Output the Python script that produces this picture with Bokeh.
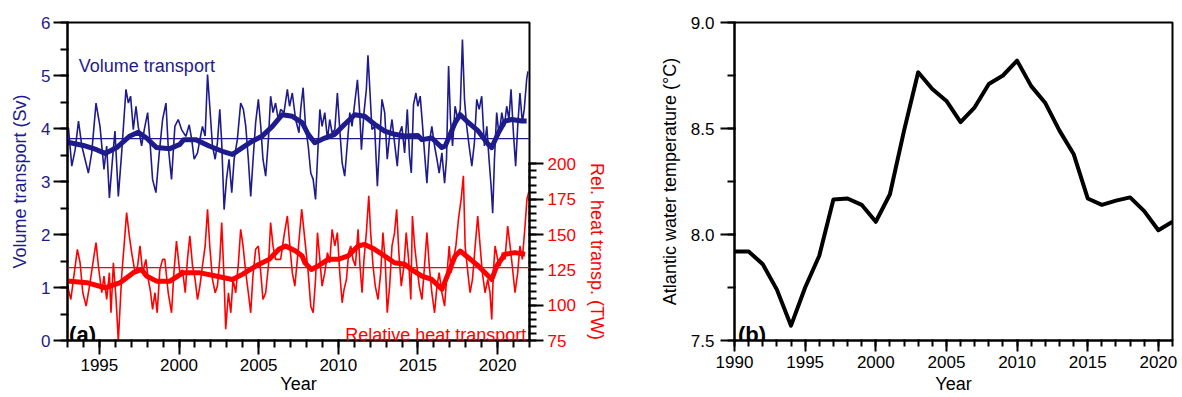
import math
from bokeh.plotting import figure
from bokeh.layouts import row
from bokeh.models import (Range1d, LinearAxis, SingleIntervalTicker, Span, Label,
                          NumeralTickFormatter)
from bokeh.embed import file_html
from bokeh.resources import INLINE

FONT = "Liberation Sans"
BLUE = "#1e1b8c"
RED = "#ff0000"

# ---------------- Panel (a) data ----------------
vol_year = [1993.00, 1993.06, 1993.27, 1993.48, 1993.69, 1993.90, 1994.10, 1994.31, 1994.52, 1994.79,
            1995.04, 1995.29, 1995.46, 1995.63, 1995.84, 1995.98, 1996.19, 1996.40, 1996.67, 1996.82,
            1996.96, 1997.13, 1997.30, 1997.44, 1997.65, 1997.82, 1998.03, 1998.17, 1998.34, 1998.55,
            1998.76, 1998.97, 1999.18, 1999.32, 1999.53, 1999.74, 1999.95, 2000.16, 2000.43, 2000.64,
            2000.80, 2000.95, 2001.16, 2001.31, 2001.47, 2001.64, 2001.79, 2001.93, 2002.10, 2002.27,
            2002.41, 2002.56, 2002.68, 2002.83, 2002.98, 2003.14, 2003.31, 2003.46, 2003.66, 2003.87,
            2004.04, 2004.19, 2004.35, 2004.50, 2004.65, 2004.81, 2004.98, 2005.13, 2005.27, 2005.44,
            2005.61, 2005.75, 2005.90, 2006.06, 2006.23, 2006.38, 2006.59, 2006.80, 2006.94, 2007.11,
            2007.32, 2007.53, 2007.65, 2007.79, 2007.94, 2008.11, 2008.27, 2008.42, 2008.57, 2008.69,
            2008.84, 2008.98, 2009.15, 2009.32, 2009.46, 2009.61, 2009.78, 2009.94, 2010.09, 2010.24,
            2010.40, 2010.57, 2010.72, 2010.86, 2011.03, 2011.20, 2011.34, 2011.45, 2011.61, 2011.76,
            2011.86, 2011.99, 2012.11, 2012.28, 2012.45, 2012.59, 2012.74, 2012.91, 2013.07, 2013.22,
            2013.37, 2013.53, 2013.70, 2013.85, 2013.99, 2014.16, 2014.33, 2014.47, 2014.58, 2014.72,
            2014.87, 2014.99, 2015.14, 2015.29, 2015.41, 2015.56, 2015.71, 2015.87, 2016.04, 2016.19,
            2016.33, 2016.50, 2016.67, 2016.79, 2016.92, 2017.04, 2017.17, 2017.33, 2017.50, 2017.65,
            2017.79, 2017.92, 2018.06, 2018.21, 2018.38, 2018.54, 2018.69, 2018.84, 2019.00, 2019.17,
            2019.32, 2019.46, 2019.59, 2019.69, 2019.80, 2019.94, 2020.09, 2020.26, 2020.42, 2020.57,
            2020.71, 2020.84, 2020.99, 2021.13, 2021.26, 2021.40, 2021.55, 2021.67, 2021.82, 2021.90]
vol_sv = [4.02, 4.01, 3.29, 3.60, 4.14, 3.67, 3.42, 3.16, 3.54, 4.48,
          4.04, 3.23, 3.67, 2.69, 3.48, 3.95, 2.72, 3.54, 4.74, 4.48,
          4.61, 3.98, 4.42, 4.04, 3.67, 3.98, 4.30, 3.79, 3.04, 2.79,
          3.54, 4.17, 4.48, 3.67, 3.04, 4.04, 4.17, 3.98, 3.85, 4.07,
          3.79, 3.42, 3.54, 3.79, 4.04, 3.86, 5.02, 4.42, 3.67, 3.42,
          3.73, 4.36, 3.73, 2.47, 3.04, 3.42, 2.79, 3.42, 3.79, 4.48,
          4.36, 4.04, 3.42, 2.72, 3.42, 4.11, 4.55, 4.04, 3.42, 3.10,
          3.79, 4.61, 4.30, 4.48, 4.17, 4.36, 4.30, 4.74, 4.42, 4.67,
          4.17, 3.92, 4.40, 4.77, 4.04, 3.67, 3.16, 3.04, 2.66, 3.42,
          4.36, 4.04, 4.30, 3.79, 4.17, 3.92, 3.98, 4.67, 3.98, 3.35,
          3.10, 3.73, 4.30, 4.04, 4.48, 4.92, 4.30, 3.60, 4.30, 4.74,
          5.38, 4.67, 3.98, 4.04, 2.91, 3.73, 4.55, 4.30, 3.42, 3.86,
          4.17, 3.73, 3.29, 3.92, 4.04, 3.54, 4.36, 3.48, 3.16, 4.45,
          4.67, 4.42, 4.61, 4.04, 3.54, 2.97, 3.73, 4.04, 3.67, 3.42,
          3.16, 3.54, 2.97, 3.42, 5.18, 4.17, 3.67, 4.42, 4.17, 4.36,
          5.68, 4.55, 4.04, 3.67, 3.29, 3.73, 4.55, 4.36, 4.61, 3.67,
          4.04, 3.42, 2.91, 2.40, 3.42, 4.30, 3.86, 4.30, 4.04, 4.42,
          4.17, 4.74, 3.92, 3.29, 4.04, 4.67, 4.11, 4.36, 4.92, 5.08]

vol_smooth_year = [1993.00, 1993.17, 1994.00, 1994.83, 1995.36, 1996.09, 1996.92, 1997.44, 1997.96, 1998.59,
                   1999.43, 2000.05, 2000.30, 2001.05, 2001.89, 2002.72, 2003.35, 2003.98, 2004.60, 2005.23,
                   2005.86, 2006.48, 2007.11, 2007.73, 2008.11, 2008.52, 2009.15, 2009.78, 2010.40, 2011.03,
                   2011.65, 2012.28, 2012.91, 2013.53, 2014.16, 2014.99, 2015.25, 2015.87, 2016.50, 2016.71,
                   2017.33, 2017.65, 2018.06, 2018.79, 2019.42, 2019.63, 2020.05, 2020.46, 2020.88, 2021.51,
                   2021.82]
vol_smooth = [3.73, 3.73, 3.68, 3.60, 3.53, 3.64, 3.86, 3.93, 3.82, 3.64,
              3.62, 3.70, 3.79, 3.79, 3.67, 3.57, 3.51, 3.64, 3.76, 3.86,
              4.04, 4.26, 4.23, 4.11, 3.89, 3.73, 3.82, 3.89, 4.08, 4.26,
              4.23, 4.08, 3.95, 3.89, 3.86, 3.87, 3.79, 3.82, 3.64, 3.67,
              4.11, 4.26, 4.14, 3.95, 3.70, 3.64, 3.92, 4.14, 4.17, 4.14,
              4.14]

heat_year = [1993.00, 1993.06, 1993.21, 1993.37, 1993.62, 1993.79, 1993.96, 1994.17, 1994.38, 1994.63,
             1994.79, 1994.94, 1995.15, 1995.29, 1995.46, 1995.63, 1995.73, 1995.88, 1996.05, 1996.19,
             1996.40, 1996.55, 1996.71, 1996.88, 1997.03, 1997.24, 1997.40, 1997.55, 1997.72, 1997.92,
             1998.07, 1998.22, 1998.34, 1998.49, 1998.63, 1998.80, 1998.97, 1999.11, 1999.32, 1999.53,
             1999.68, 1999.84, 2000.05, 2000.22, 2000.39, 2000.53, 2000.68, 2000.85, 2001.01, 2001.16,
             2001.31, 2001.47, 2001.64, 2001.79, 2001.93, 2002.10, 2002.27, 2002.41, 2002.56, 2002.68,
             2002.83, 2002.93, 2003.10, 2003.25, 2003.39, 2003.56, 2003.73, 2003.87, 2004.02, 2004.19,
             2004.35, 2004.50, 2004.64, 2004.81, 2004.98, 2005.13, 2005.27, 2005.44, 2005.61, 2005.75,
             2005.90, 2006.06, 2006.23, 2006.38, 2006.59, 2006.80, 2006.94, 2007.11, 2007.27, 2007.45,
             2007.70, 2007.94, 2008.11, 2008.27, 2008.42, 2008.57, 2008.69, 2008.84, 2008.98, 2009.15,
             2009.32, 2009.46, 2009.61, 2009.78, 2009.94, 2010.09, 2010.24, 2010.36, 2010.51, 2010.65,
             2010.78, 2010.92, 2011.07, 2011.24, 2011.36, 2011.49, 2011.61, 2011.76, 2011.91, 2012.03,
             2012.18, 2012.32, 2012.49, 2012.66, 2012.80, 2012.95, 2013.07, 2013.22, 2013.37, 2013.53,
             2013.66, 2013.80, 2013.95, 2014.12, 2014.26, 2014.41, 2014.55, 2014.65, 2014.79, 2014.93,
             2015.08, 2015.25, 2015.41, 2015.56, 2015.71, 2015.87, 2016.04, 2016.19, 2016.33, 2016.50,
             2016.67, 2016.81, 2016.96, 2017.08, 2017.23, 2017.38, 2017.54, 2017.71, 2017.85, 2017.96,
             2018.13, 2018.27, 2018.42, 2018.59, 2018.75, 2018.90, 2019.04, 2019.21, 2019.38, 2019.52,
             2019.63, 2019.73, 2019.84, 2020.00, 2020.15, 2020.30, 2020.46, 2020.63, 2020.78, 2020.92,
             2021.09, 2021.26, 2021.40, 2021.55, 2021.72, 2021.84, 2021.95]
heat_tw = [115.0, 111.0, 104.0, 118.0, 139.5, 130.0, 108.8, 99.3, 113.5, 132.4,
           144.2, 127.7, 108.8, 120.6, 104.0, 123.0, 94.6, 130.0, 104.0, 74.5,
           120.6, 141.9, 165.5, 149.0, 137.0, 123.0, 127.7, 141.9, 123.0, 132.4,
           118.2, 108.8, 97.0, 108.8, 94.6, 125.3, 132.4, 132.4, 108.8, 94.6,
           123.0, 145.4, 123.0, 125.0, 108.8, 132.4, 149.0, 127.7, 118.2, 104.0,
           113.5, 127.7, 141.9, 167.9, 141.9, 118.2, 108.8, 113.5, 132.4, 158.4,
           118.2, 83.0, 108.8, 94.6, 118.2, 108.8, 130.0, 153.7, 141.9, 123.0,
           108.8, 94.6, 120.6, 139.5, 141.9, 123.0, 104.0, 108.8, 127.7, 158.4,
           141.9, 132.4, 132.4, 132.4, 149.0, 163.1, 144.2, 123.0, 113.5, 135.0,
           167.9, 141.9, 123.0, 99.3, 94.6, 118.2, 151.3, 132.4, 113.5, 123.0,
           137.2, 130.0, 153.7, 141.9, 151.3, 123.0, 101.7, 111.2, 118.2, 137.2,
           141.9, 132.4, 127.7, 153.7, 127.7, 108.8, 132.4, 151.3, 177.3, 151.3,
           127.7, 113.5, 104.0, 123.0, 151.3, 130.0, 94.6, 113.5, 141.9, 151.3,
           167.9, 137.2, 113.5, 127.7, 151.3, 132.4, 104.0, 163.1, 141.9, 127.7,
           113.5, 104.0, 127.7, 151.3, 127.7, 108.8, 94.6, 113.5, 123.0, 108.8,
           99.3, 120.6, 141.9, 123.0, 132.4, 141.9, 160.8, 175.0, 191.5, 141.9,
           123.0, 108.8, 118.2, 141.9, 163.1, 141.9, 123.0, 108.8, 118.2, 108.8,
           89.9, 123.0, 141.9, 132.4, 127.7, 137.2, 132.4, 156.0, 141.9, 127.7,
           108.8, 123.0, 141.9, 132.4, 156.0, 175.0, 180.0]

heat_smooth_year = [1993.00, 1993.16, 1994.21, 1995.36, 1996.30, 1997.13, 1997.65, 1997.96, 1998.59, 1999.43,
                    2000.26, 2001.26, 2002.31, 2003.35, 2003.98, 2004.81, 2005.65, 2006.27, 2006.69, 2007.32,
                    2007.73, 2007.90, 2008.31, 2008.73, 2009.36, 2009.98, 2010.61, 2011.24, 2011.65, 2012.28,
                    2012.91, 2013.53, 2014.16, 2014.62, 2015.25, 2015.87, 2016.50, 2016.92, 2017.33, 2017.65,
                    2018.17, 2018.79, 2019.42, 2019.63, 2019.94, 2020.46, 2021.09, 2021.72]
heat_smooth = [117.0, 117.0, 115.9, 112.3, 115.9, 123.0, 125.3, 120.6, 117.0, 117.0,
               123.0, 123.0, 120.6, 118.2, 121.8, 127.7, 132.4, 139.5, 141.9, 138.3,
               134.8, 130.0, 125.3, 127.7, 132.4, 132.4, 134.8, 141.9, 143.0, 139.5,
               134.8, 130.0, 128.9, 125.0, 120.6, 118.2, 111.2, 123.0, 134.8, 138.3,
               133.6, 127.7, 120.6, 118.2, 127.7, 136.0, 137.2, 136.0]

vol_mean = 3.81
heat_mean = 126.5

# ---------------- Panel (b) data ----------------
temp_year = list(range(1990, 2022))
temp_c = [7.92, 7.92, 7.86, 7.74, 7.57, 7.75, 7.90, 8.165, 8.17, 8.14,
          8.06, 8.19, 8.49, 8.765, 8.686, 8.63, 8.53, 8.60, 8.71, 8.75,
          8.82, 8.70, 8.62, 8.49, 8.38, 8.17, 8.14, 8.16, 8.175, 8.11,
          8.02, 8.06]


def style_axis(ax, color, tick_out, minor_out, tick_in=1):
    ax.axis_line_color = "black"
    ax.major_tick_line_color = "black"
    ax.minor_tick_line_color = "black"
    ax.axis_line_width = 2
    ax.major_tick_line_width = 2
    ax.minor_tick_line_width = 2
    ax.major_tick_out = tick_out
    ax.minor_tick_out = minor_out
    ax.major_tick_in = tick_in
    ax.minor_tick_in = tick_in
    ax.major_label_text_font = FONT
    ax.major_label_text_font_size = "17px"
    ax.major_label_text_color = color
    ax.axis_label_text_font = FONT
    ax.axis_label_text_font_size = "18px"
    ax.axis_label_text_font_style = "normal"
    ax.axis_label_text_color = color


# ---------------- Figure (a) ----------------
p1 = figure(width=620, height=397, x_range=Range1d(1993, 2022), y_range=Range1d(0, 6),
            output_backend="svg", toolbar_location=None,
            min_border_left=67, min_border_right=91, min_border_top=22, min_border_bottom=57)
p1.extra_y_ranges = {"heat": Range1d(75, 300)}
p1.grid.visible = False
p1.outline_line_color = "black"
p1.outline_line_width = 2
p1.outline_line_alpha = 1

p1.xaxis.ticker = SingleIntervalTicker(interval=5, num_minor_ticks=5)
p1.xaxis.axis_label = "Year"
style_axis(p1.xaxis[0], "black", 14, 7)
p1.xaxis.major_label_standoff = 4
p1.xaxis.axis_label_standoff = 0

p1.yaxis.ticker = SingleIntervalTicker(interval=1, num_minor_ticks=2)
p1.yaxis.axis_label = "Volume transport (Sv)"
style_axis(p1.yaxis[0], BLUE, 14, 7)
p1.yaxis.major_label_standoff = 3
p1.yaxis.axis_label_standoff = 8

# right axis only spans 75-200 TW; its title is shifted down (leading no-break
# spaces) so that it sits beside that part of the axis, as in the original
rax = LinearAxis(y_range_name="heat", bounds=(75, 200),
                 ticker=SingleIntervalTicker(interval=25, num_minor_ticks=5),
                 axis_label="\u00a0" * 28 + "Rel. heat transp. (TW)")
style_axis(rax, RED, 14, 7)
rax.major_label_standoff = 4
rax.axis_label_standoff = 8
p1.add_layout(rax, "right")

p1.add_layout(Span(location=vol_mean, dimension="width", line_color=BLUE, line_width=1.2))
p1.add_layout(Span(location=heat_mean, dimension="width", line_color=RED, line_width=1.2,
                   y_range_name="heat"))

p1.line(heat_year, heat_tw, y_range_name="heat", line_color=RED, line_width=1.6)
p1.line(heat_smooth_year, heat_smooth, y_range_name="heat", line_color=RED, line_width=5,
        line_join="round")
p1.line(vol_year, vol_sv, line_color=BLUE, line_width=1.6)
p1.line(vol_smooth_year, vol_smooth, line_color=BLUE, line_width=5, line_join="round")

p1.add_layout(Label(x=1993.71, y=5.17, text="Volume transport", text_color=BLUE,
                    text_font=FONT, text_font_size="18px", text_baseline="alphabetic"))
p1.add_layout(Label(x=2021.8, y=0.11, text="Relative heat transport", text_color=RED,
                    text_font=FONT, text_font_size="18px", text_baseline="alphabetic",
                    text_align="right"))
p1.add_layout(Label(x=1993.1, y=0.11, text="(a)", text_color="black",
                    text_font=FONT, text_font_size="22px", text_font_style="bold",
                    text_baseline="alphabetic"))

# ---------------- Figure (b) ----------------
p2 = figure(width=562, height=397, x_range=Range1d(1990, 2021), y_range=Range1d(7.5, 9.0),
            output_backend="svg", toolbar_location=None,
            min_border_left=114, min_border_right=10, min_border_top=22, min_border_bottom=57)
p2.grid.visible = False
p2.outline_line_color = "black"
p2.outline_line_width = 2
p2.outline_line_alpha = 1

p2.xaxis.ticker = SingleIntervalTicker(interval=5, num_minor_ticks=5)
p2.xaxis.axis_label = "Year"
style_axis(p2.xaxis[0], "black", 11, 6)
p2.xaxis.major_label_standoff = 4
p2.xaxis.axis_label_standoff = 3

p2.yaxis.ticker = SingleIntervalTicker(interval=0.5, num_minor_ticks=2)
p2.yaxis.formatter = NumeralTickFormatter(format="0.0")
p2.yaxis.axis_label = "Atlantic water temperature (°C)"
style_axis(p2.yaxis[0], "black", 14, 7)
p2.yaxis.major_label_standoff = 6
p2.yaxis.axis_label_standoff = 8

p2.line(temp_year, temp_c, line_color="black", line_width=4, line_join="round")

p2.add_layout(Label(x=1990.25, y=7.528, text="(b)", text_color="black",
                    text_font=FONT, text_font_size="22px", text_font_style="bold",
                    text_baseline="alphabetic"))

layout = row(p1, p2, spacing=0)
open("out.html", "w").write(file_html(layout, INLINE))
